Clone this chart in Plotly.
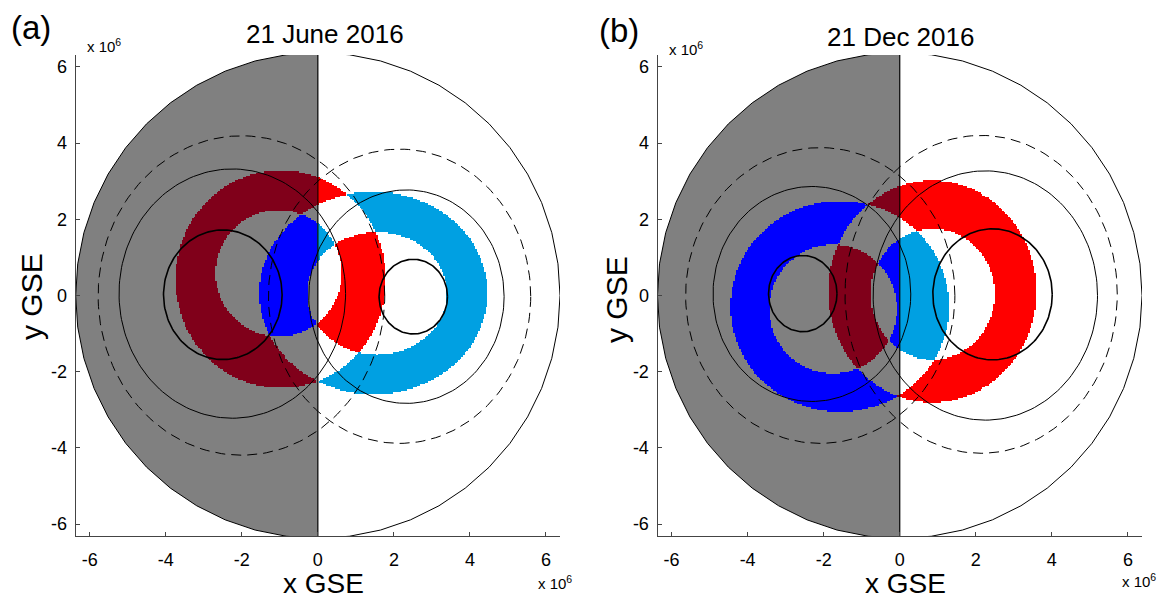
import numpy as np
import plotly.graph_objects as go

# ---------------- data (units of 10^6 m) ----------------
EARTH_RADIUS = 6.371
AXIS_TICKS = [-6, -4, -2, 0, 2, 4, 6]
PANEL_TITLES = ["21 June 2016", "21 Dec 2016"]
PANEL_LETTERS = ["(a)", "(b)"]

# ellipses: [centre x, centre y, semi-axis x, semi-axis y]
RED_OUTER = [[-0.975, 0.42, 2.77, 2.86], [0.86, 0.10, 2.74, 2.91]]
RED_INNER = [[-1.03, 0.58, 1.66, 1.66], [0.87, 0.03, 1.63, 1.72]]
BLUE_OUTER = [[1.465, 0.06, 3.00, 2.66], [-1.57, -0.29, 2.88, 2.77]]
BLUE_INNER = [[1.56, 0.05, 1.84, 1.61], [-1.75, -0.36, 1.68, 1.69]]

DASHED_CONTOURS = [
    [[-2.01, 0.00, 3.77, 4.19], [2.15, -0.02, 3.45, 3.86]],
    [[-2.09, 0.00, 3.54, 3.88], [2.14, 0.03, 3.58, 4.17]],
]
SOLID_CONTOURS = [
    [[-2.25, 0.05, 2.98, 3.27], [2.33, -0.03, 2.57, 2.80]],
    [[-2.31, 0.04, 2.60, 2.82], [2.25, 0.00, 2.95, 3.27]],
]
SMALL_CONTOURS = [
    [[-2.50, 0.02, 1.56, 1.70], [2.51, -0.03, 0.90, 0.98]],
    [[-2.55, 0.05, 0.90, 1.00], [2.44, 0.03, 1.57, 1.72]],
]

# classes: 0 night-side red band, 1 day-side red band, 2 night-side blue band, 3 day-side blue band
BAND_COLORS = ["#80001a", "#ff0000", "#0000ff", "#00a0e2"]
NIGHT_GRAY = "#808080"

# ---------------- layout geometry ----------------
W, H = 1171, 599
X_RANGE = [-6.37, 6.37]
Y_RANGE = [-6.31, 6.31]


def fx(px):
    return px / W


def fy(py):
    return 1 - py / H


X_DOMAINS = [[fx(75.7), fx(560.0)], [fx(657.5), fx(1142.0)]]
Y_DOMAIN = [fy(536.0), fy(55.0)]


def inside(e, X, Y):
    cx, cy, rx, ry = e
    return ((X - cx) / rx) ** 2 + ((Y - cy) / ry) ** 2 <= 1.0


def ellipse_xy(e, n=181):
    cx, cy, rx, ry = e
    t = np.linspace(0, 2 * np.pi, n)
    return cx + rx * np.cos(t), cy + ry * np.sin(t)


fig = go.Figure()

step = 0.04
g = np.arange(-6.4, 6.4 + step / 2, step)
GX, GY = np.meshgrid(g, g)
colorscale = []
for i, c in enumerate(BAND_COLORS):
    colorscale.append([i / 4, c])
    colorscale.append([(i + 1) / 4, c])

for p in range(2):
    xa = "x" if p == 0 else "x2"
    ya = "y" if p == 0 else "y2"
    in_earth = GX ** 2 + GY ** 2 <= EARTH_RADIUS ** 2
    red = inside(RED_OUTER[p], GX, GY) & ~inside(RED_INNER[p], GX, GY) & in_earth
    blue = inside(BLUE_OUTER[p], GX, GY) & ~inside(BLUE_INNER[p], GX, GY) & in_earth
    day = GX >= 0
    z = np.full(GX.shape, np.nan)
    z[red & ~blue & ~day] = 0
    z[red & ~blue & day] = 1
    z[blue & ~red & ~day] = 2
    z[blue & ~red & day] = 3
    fig.add_trace(go.Heatmap(
        x=g, y=g, z=z, xaxis=xa, yaxis=ya, colorscale=colorscale,
        zmin=-0.5, zmax=3.5, showscale=False, zsmooth=False, hoverinfo="skip"))

for p in range(2):
    xa = "x" if p == 0 else "x2"
    ya = "y" if p == 0 else "y2"
    for e in DASHED_CONTOURS[p]:
        ex, ey = ellipse_xy(e)
        fig.add_trace(go.Scatter(x=ex, y=ey, mode="lines", xaxis=xa, yaxis=ya,
                                 line=dict(color="black", width=1, dash="10px,6px"),
                                 hoverinfo="skip", showlegend=False))
    for e in SOLID_CONTOURS[p]:
        ex, ey = ellipse_xy(e)
        fig.add_trace(go.Scatter(x=ex, y=ey, mode="lines", xaxis=xa, yaxis=ya,
                                 line=dict(color="black", width=1),
                                 hoverinfo="skip", showlegend=False))
    for e in SMALL_CONTOURS[p]:
        ex, ey = ellipse_xy(e)
        fig.add_trace(go.Scatter(x=ex, y=ey, mode="lines", xaxis=xa, yaxis=ya,
                                 line=dict(color="black", width=1.6),
                                 hoverinfo="skip", showlegend=False))
    # Earth outline (polygonal, like the original)
    t = np.linspace(0, 2 * np.pi, 49)
    fig.add_trace(go.Scatter(x=EARTH_RADIUS * np.cos(t), y=EARTH_RADIUS * np.sin(t),
                             mode="lines", xaxis=xa, yaxis=ya,
                             line=dict(color="black", width=1),
                             hoverinfo="skip", showlegend=False))
    # terminator
    fig.add_trace(go.Scatter(x=[0, 0], y=[-EARTH_RADIUS, EARTH_RADIUS], mode="lines",
                             xaxis=xa, yaxis=ya, line=dict(color="black", width=1.2),
                             hoverinfo="skip", showlegend=False))

# night hemisphere shading as a below-layer shape
shapes = []
ang = np.linspace(np.pi / 2, 3 * np.pi / 2, 25)
hx = EARTH_RADIUS * np.cos(ang)
hy = EARTH_RADIUS * np.sin(ang)
path = "M " + " L ".join(f"{a:.4f},{b:.4f}" for a, b in zip(hx, hy)) + " Z"
for p in range(2):
    xr = "x" if p == 0 else "x2"
    yr = "y" if p == 0 else "y2"
    shapes.append(dict(type="path", path=path, xref=xr, yref=yr, layer="below",
                       fillcolor=NIGHT_GRAY, line=dict(width=0)))

FONT = "Liberation Sans, Arial, sans-serif"
axis_common = dict(
    tickvals=AXIS_TICKS, ticktext=[str(v) for v in AXIS_TICKS],
    ticks="inside", ticklen=4, tickcolor="#444", showline=True, linecolor="#444",
    linewidth=1, showgrid=False, zeroline=False, mirror=False,
    tickfont=dict(family=FONT, size=18, color="black"),
)

layout = dict(
    width=W, height=H, margin=dict(l=0, r=0, t=0, b=0),
    paper_bgcolor="white", plot_bgcolor="white", showlegend=False,
    shapes=shapes,
    xaxis=dict(domain=X_DOMAINS[0], range=X_RANGE, anchor="y", ticklabelstandoff=7, **axis_common),
    yaxis=dict(domain=Y_DOMAIN, range=Y_RANGE, anchor="x", ticklabelstandoff=4, **axis_common),
    xaxis2=dict(domain=X_DOMAINS[1], range=X_RANGE, anchor="y2", ticklabelstandoff=7, **axis_common),
    yaxis2=dict(domain=Y_DOMAIN, range=Y_RANGE, anchor="x2", ticklabelstandoff=4, **axis_common),
)
fig.update_layout(**layout)


def ann(text, px, py, size, xanchor="center", **kw):
    fig.add_annotation(text=text, x=fx(px), y=fy(py), xref="paper", yref="paper",
                       xanchor=xanchor, yanchor="middle", showarrow=False,
                       font=dict(family=FONT, size=size, color="black"), **kw)


for p in range(2):
    ann(PANEL_LETTERS[p], [31, 619][p], [27, 30][p], 33)
    ann(PANEL_TITLES[p], [325, 900][p], [34, 37][p], 26)
    ann("x 10<sup>6</sup>", [85, 667][p], [45, 48][p], 15, xanchor="left")
    ann("x 10<sup>6</sup>", [574, 1158][p], [582, 580][p], 15, xanchor="right")
    ann("x GSE", [323, 905][p], [583, 583][p], 28)
    ann("y GSE", [31, 616][p], [297, 300][p], 30, textangle=-90)

fig.write_html("out.html", config={"displayModeBar": False},
               post_script="document.body.style.margin='0px';")
